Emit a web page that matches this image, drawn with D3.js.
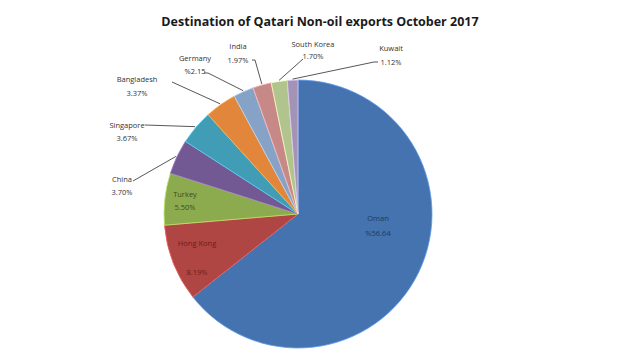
<!DOCTYPE html>
<html>
<head>
<meta charset="utf-8">
<script src="https://cdn.jsdelivr.net/npm/d3@7"></script>
<style>
  html, body { margin: 0; padding: 0; background: #fff; }
  svg { display: block; }
  text { font-family: "Open Sans", "Liberation Sans", sans-serif; }
</style>
</head>
<body>
<svg id="chart" width="620" height="354"></svg>
<script>
// Export destinations, clockwise from twelve o'clock
const countries = ["Oman", "Hong Kong", "Turkey", "China", "Singapore",
                   "Bangladesh", "Germany", "India", "South Korea", "Kuwait"];
const shares = [56.64, 8.19, 5.50, 3.70, 3.67, 3.37, 2.15, 1.97, 1.70, 1.12];
const shareLabels = ["%56.64", "8.19%", "5.50%", "3.70%", "3.67%",
                     "3.37%", "%2.15", "1.97%", "1.70%", "1.12%"];
const sliceColors = ["#4a7ebf", "#c04c49", "#99bb55", "#7e61a2", "#47abc7",
                     "#f79241", "#93b1d8", "#da9694", "#c3d69b", "#b2a2c7"];
const labelInks = ["#1d3a62", "#6b1c1a", "#3f4c1e", "#333", "#333",
                   "#333", "#333", "#333", "#333", "#333"];

// Label placement relative to the pie centre: text block (tx, ty),
// value line gap (gap), and for outside labels the leader end (ex, ey).
const labelLayout = [
  { tx: 80,   ty: 4,    gap: 15 },
  { tx: -101, ty: 29,   gap: 29 },
  { tx: -113, ty: -20,  gap: 13 },
  { tx: -176, ty: -35,  gap: 13, ex: -165, ey: -33, elbow: 0 },
  { tx: -171, ty: -89,  gap: 13, ex: -153, ey: -89, elbow: 0 },
  { tx: -161, ty: -135, gap: 14, ex: -126, ey: -132, elbow: 0 },
  { tx: -103, ty: -156, gap: 13, ex: -94,  ey: -141, elbow: 4 },
  { tx: -60,  ty: -168, gap: 14, ex: -46,  ey: -154, elbow: 3 },
  { tx: 15,   ty: -170, gap: 12, ex: 5,    ey: -155, elbow: 0 },
  { tx: 93,   ty: -166, gap: 14, ex: 80,   ey: -152, elbow: -4 }
];

const title = "Destination of Qatari Non-oil exports October 2017";

const svg = d3.select("#chart");
const cx = 298, cy = 214, radius = 134;

svg.append("text")
  .attr("x", 320).attr("y", 26)
  .attr("text-anchor", "middle")
  .attr("font-size", 12.5)
  .attr("font-weight", 700)
  .attr("fill", "#1a1a1a")
  .text(title);

const data = countries.map((c, i) => ({
  country: c, share: shares[i], label: shareLabels[i],
  color: sliceColors[i], ink: labelInks[i], layout: labelLayout[i]
}));

const pie = d3.pie().sort(null).value(d => d.share);
const arcs = pie(data);
const arc = d3.arc().innerRadius(0).outerRadius(radius);

// soft radial shading for each slice
const defs = svg.append("defs");
data.forEach((d, i) => {
  const g = defs.append("radialGradient")
    .attr("id", "shade" + i)
    .attr("gradientUnits", "userSpaceOnUse")
    .attr("cx", cx).attr("cy", cy).attr("r", radius);
  const base = d3.color(d.color);
  g.append("stop").attr("offset", "0%").attr("stop-color", base.brighter(0.15));
  g.append("stop").attr("offset", "85%").attr("stop-color", base);
  g.append("stop").attr("offset", "100%").attr("stop-color", base.darker(0.25));
});

const gPie = svg.append("g").attr("transform", `translate(${cx},${cy})`);

gPie.selectAll("path.slice")
  .data(arcs)
  .join("path")
  .attr("class", "slice")
  .attr("d", arc)
  .attr("fill", (d, i) => `url(#shade${i})`)
  .attr("stroke", (d) => d3.color(d.data.color).brighter(0.6))
  .attr("stroke-width", 0.8);

// leader lines for the smaller slices
const rimPoint = (a, r) => [Math.sin(a) * r, -Math.cos(a) * r];
const withLeader = arcs.filter(d => d.data.layout.ex !== undefined);

gPie.selectAll("polyline.leader")
  .data(withLeader)
  .join("polyline")
  .attr("class", "leader")
  .attr("fill", "none")
  .attr("stroke", "#444")
  .attr("stroke-width", 0.9)
  .attr("points", d => {
    const mid = (d.startAngle + d.endAngle) / 2;
    const p0 = rimPoint(mid, radius + 1);
    const L = d.data.layout;
    const pts = [p0];
    if (L.elbow) pts.push([L.ex + L.elbow, L.ey]);
    pts.push([L.ex, L.ey]);
    return pts.map(p => p.join(",")).join(" ");
  });

// names and shares
const labels = gPie.selectAll("g.label")
  .data(arcs)
  .join("g")
  .attr("class", "label")
  .attr("transform", d => `translate(${d.data.layout.tx},${d.data.layout.ty})`);

labels.append("text")
  .attr("text-anchor", "middle")
  .attr("dy", "0.35em")
  .attr("font-size", 7.5)
  .attr("fill", d => d.data.ink)
  .text(d => d.data.country);

labels.append("text")
  .attr("text-anchor", "middle")
  .attr("y", d => d.data.layout.gap)
  .attr("dy", "0.35em")
  .attr("font-size", 7.5)
  .attr("fill", d => d.data.ink)
  .text(d => d.data.label);
</script>
</body>
</html>
